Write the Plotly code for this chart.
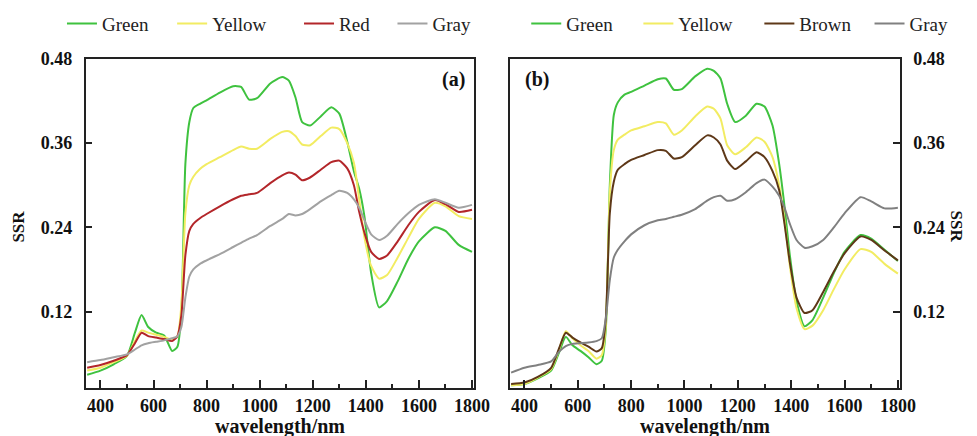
import plotly.graph_objects as go

# wavelength grid (nm)
wavelength = [350, 400, 450, 500, 530, 555, 580, 610, 640, 670, 690, 705, 720, 735, 750, 775,
              800, 850, 900, 930, 960, 990, 1040, 1085, 1110, 1135, 1160, 1190, 1230, 1270,
              1300, 1330, 1355, 1375, 1395, 1420, 1450, 1480, 1520, 1560, 1600, 1660, 1700,
              1750, 1800]

# panel (a)
a_green = [0.030, 0.036, 0.045, 0.057, 0.090, 0.115, 0.098, 0.090, 0.086, 0.064, 0.070, 0.120,
           0.330, 0.390, 0.410, 0.416, 0.421, 0.432, 0.441, 0.440, 0.422, 0.424, 0.445, 0.454,
           0.449, 0.425, 0.390, 0.385, 0.398, 0.411, 0.402, 0.362, 0.320, 0.295, 0.255, 0.175,
           0.126, 0.135, 0.163, 0.195, 0.220, 0.240, 0.235, 0.215, 0.205]
a_yellow = [0.036, 0.040, 0.048, 0.057, 0.078, 0.093, 0.090, 0.087, 0.084, 0.080, 0.085, 0.130,
            0.260, 0.300, 0.312, 0.323, 0.330, 0.340, 0.350, 0.355, 0.352, 0.352, 0.366, 0.376,
            0.377, 0.370, 0.358, 0.357, 0.370, 0.382, 0.380, 0.360, 0.332, 0.280, 0.225, 0.185,
            0.167, 0.172, 0.197, 0.225, 0.252, 0.275, 0.270, 0.256, 0.252]
a_red = [0.040, 0.044, 0.050, 0.058, 0.075, 0.090, 0.085, 0.083, 0.081, 0.078, 0.085, 0.115,
         0.200, 0.235, 0.245, 0.253, 0.259, 0.270, 0.280, 0.285, 0.287, 0.289, 0.303, 0.314,
         0.318, 0.315, 0.307, 0.311, 0.322, 0.333, 0.335, 0.324, 0.300, 0.262, 0.232, 0.205,
         0.195, 0.200, 0.220, 0.243, 0.262, 0.279, 0.273, 0.262, 0.265]
a_gray = [0.048, 0.051, 0.055, 0.059, 0.066, 0.072, 0.075, 0.077, 0.079, 0.082, 0.085, 0.098,
          0.140, 0.170, 0.180, 0.188, 0.193, 0.202, 0.212, 0.218, 0.224, 0.229, 0.242, 0.252,
          0.259, 0.257, 0.259, 0.266, 0.277, 0.286, 0.292, 0.289, 0.280, 0.268, 0.250, 0.230,
          0.222, 0.228, 0.245, 0.260, 0.272, 0.280, 0.275, 0.268, 0.272]

# panel (b)
b_green = [0.015, 0.017, 0.025, 0.036, 0.062, 0.084, 0.072, 0.064, 0.055, 0.045, 0.050, 0.095,
           0.300, 0.400, 0.418, 0.429, 0.433, 0.442, 0.451, 0.452, 0.436, 0.437, 0.455, 0.466,
           0.463, 0.452, 0.416, 0.390, 0.399, 0.416, 0.412, 0.385, 0.330, 0.270, 0.200, 0.135,
           0.099, 0.108, 0.140, 0.175, 0.205, 0.229, 0.224, 0.208, 0.192]
b_yellow = [0.015, 0.017, 0.026, 0.038, 0.066, 0.092, 0.082, 0.072, 0.064, 0.053, 0.058, 0.100,
            0.290, 0.350, 0.365, 0.372, 0.378, 0.384, 0.390, 0.388, 0.372, 0.378, 0.398, 0.412,
            0.409, 0.395, 0.357, 0.344, 0.354, 0.368, 0.362, 0.340, 0.300, 0.250, 0.185, 0.125,
            0.095, 0.100, 0.122, 0.152, 0.180, 0.209, 0.205, 0.188, 0.174]
b_brown = [0.017, 0.019, 0.027, 0.040, 0.068, 0.090, 0.083, 0.076, 0.070, 0.063, 0.068, 0.110,
           0.260, 0.305, 0.322, 0.330, 0.336, 0.343, 0.350, 0.349, 0.338, 0.340, 0.357, 0.371,
           0.368, 0.358, 0.335, 0.323, 0.334, 0.347, 0.340, 0.320, 0.293, 0.245, 0.190, 0.140,
           0.118, 0.122, 0.148, 0.177, 0.203, 0.227, 0.222, 0.207, 0.193]
b_gray = [0.033, 0.040, 0.044, 0.049, 0.063, 0.071, 0.074, 0.075, 0.076, 0.078, 0.082, 0.110,
          0.165, 0.197, 0.208, 0.220, 0.230, 0.243, 0.250, 0.252, 0.255, 0.258, 0.266, 0.278,
          0.283, 0.285, 0.278, 0.280, 0.290, 0.303, 0.308, 0.298, 0.285, 0.268, 0.245, 0.222,
          0.211, 0.213, 0.222, 0.240, 0.260, 0.283, 0.277, 0.267, 0.268]

y_ticks = [0.12, 0.24, 0.36, 0.48]
x_ticks = [400, 600, 800, 1000, 1200, 1400, 1600, 1800]
x_minor = [500, 700, 900, 1100, 1300, 1500, 1700]

panel_a = [("Green", a_green, "#3fc23f"), ("Yellow", a_yellow, "#f2ec62"),
           ("Red", a_red, "#b3262a"), ("Gray", a_gray, "#a2a2a2")]
panel_b = [("Green", b_green, "#3fc23f"), ("Yellow", b_yellow, "#f2ec62"),
           ("Brown", b_brown, "#5e3818"), ("Gray", b_gray, "#808080")]

SERIF = "Liberation Serif"
W, H = 977, 436

# left pixel position of each legend entry (layout only)
legend_pos_a = [63, 175, 304, 399]
legend_pos_b = [535, 649, 772, 884]

fig = go.Figure()
legend_layout = {}
k = 0
for (panel, positions, xa, ya) in [(panel_a, legend_pos_a, "x", "y"),
                                   (panel_b, legend_pos_b, "x2", "y2")]:
    for (name, vals, col), px in zip(panel, positions):
        k += 1
        lname = "legend" if k == 1 else f"legend{k}"
        fig.add_trace(go.Scatter(x=wavelength, y=vals, name=name, mode="lines",
                                 line=dict(color=col, width=2, shape="spline", smoothing=0.6),
                                 xaxis=xa, yaxis=ya, legend=lname))
        legend_layout[lname] = dict(x=px / W, y=1 - 14 / H, xanchor="left", yanchor="middle",
                                    orientation="h",
                                    font=dict(family=SERIF, size=19, color="#222"),
                                    bgcolor="rgba(0,0,0,0)", itemwidth=30)

tickfont = dict(family=SERIF, size=18, color="#111", weight=700)

def xax(domain, anchor):
    return dict(domain=domain, anchor=anchor, range=[344, 1808], tickvals=x_ticks,
                ticks="inside", ticklen=8, tickwidth=1.5, tickcolor="#222",
                showline=True, linecolor="#222", linewidth=1.5, mirror=True,
                showgrid=False, zeroline=False, tickfont=tickfont, ticklabelstandoff=1,
                minor=dict(tickvals=x_minor, ticks="inside",
                           ticklen=4, tickwidth=1.5, tickcolor="#222"))

def yax(domain, anchor, side):
    return dict(domain=domain, anchor=anchor, side=side, range=[0.011, 0.48],
                tickvals=y_ticks, tickformat=".2f",
                ticks="inside", ticklen=7, tickwidth=1.5, tickcolor="#222",
                showline=True, linecolor="#222", linewidth=1.5, mirror=True,
                showgrid=False, zeroline=False, tickfont=tickfont, ticklabelstandoff=8)

ydom = [1 - 387 / H, 1 - 50 / H]
fig.update_layout(
    width=W, height=H, margin=dict(l=0, r=0, t=0, b=0),
    paper_bgcolor="white", plot_bgcolor="white",
    xaxis=xax([87 / W, 482 / W], "y"),
    yaxis=yax(ydom, "x", "left"),
    xaxis2=xax([518 / W, 915 / W], "y2"),
    yaxis2=yax(ydom, "x2", "right"),
    showlegend=True,
    **legend_layout,
)

bold = dict(family=SERIF, color="#111", weight=700)
annots = [
    dict(text="wavelength/nm", x=(87 + 482) / 2 / W, y=1 - 426 / H, xanchor="center",
         font=dict(size=20, **bold)),
    dict(text="wavelength/nm", x=(518 + 915) / 2 / W, y=1 - 426 / H, xanchor="center",
         font=dict(size=20, **bold)),
    dict(text="SSR", x=19 / W, y=1 - 222 / H, xanchor="center", textangle=-90,
         font=dict(size=17, **bold)),
    dict(text="SSR", x=958 / W, y=1 - 222 / H, xanchor="center", textangle=90, xshift=14,
         font=dict(size=17, **bold)),
    dict(text="(a)", x=461 / W, y=1 - 71 / H, xanchor="center", font=dict(size=20, **bold)),
    dict(text="(b)", x=546 / W, y=1 - 71 / H, xanchor="center", font=dict(size=20, **bold)),
]
for a in annots:
    fig.add_annotation(xref="paper", yref="paper", showarrow=False, yanchor="middle", **a)

fig.write_html("out.html")
